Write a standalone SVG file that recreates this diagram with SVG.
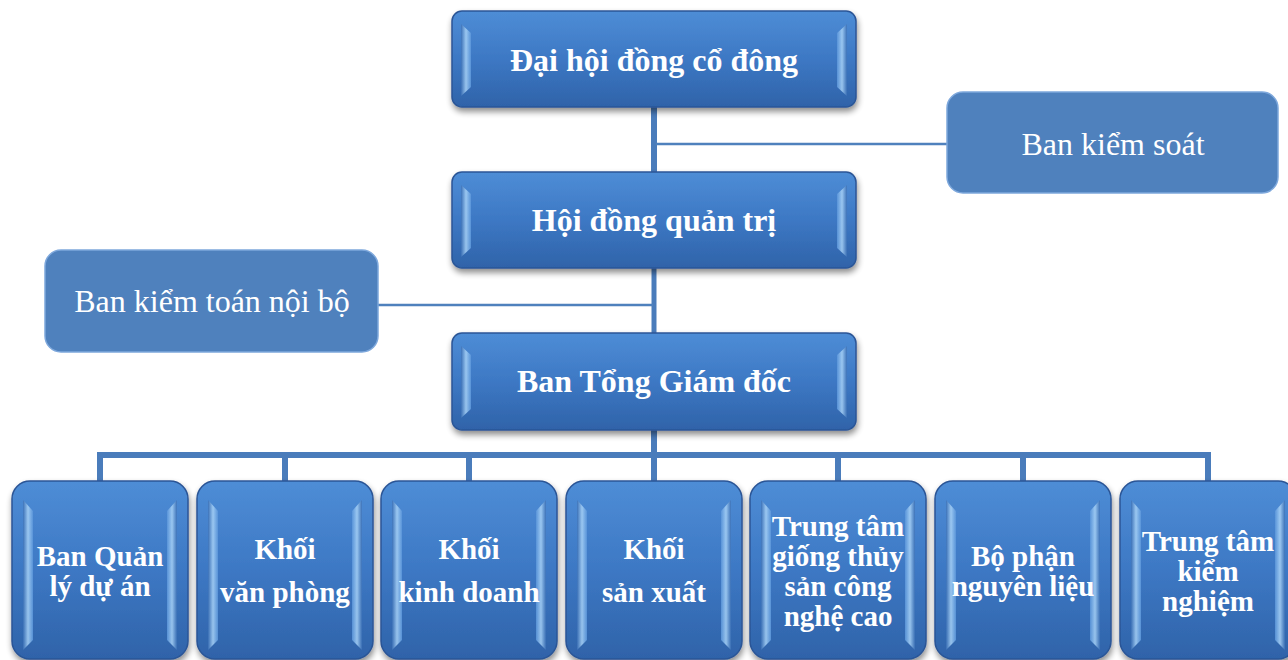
<svg xmlns="http://www.w3.org/2000/svg" width="1288" height="660" viewBox="0 0 1288 660">
<defs>
<linearGradient id="gMain" x1="0" y1="0" x2="0" y2="1">
<stop offset="0" stop-color="#4e8dd6"/>
<stop offset="0.5" stop-color="#3d78c4"/>
<stop offset="1" stop-color="#2f63a9"/>
</linearGradient>
<linearGradient id="gSideL" x1="0" y1="0" x2="1" y2="0">
<stop offset="0" stop-color="#3a6fb5"/>
<stop offset="0.5" stop-color="#a9d3f7"/>
<stop offset="1" stop-color="#5c97db"/>
</linearGradient>
<linearGradient id="gSideR" x1="0" y1="0" x2="1" y2="0">
<stop offset="0" stop-color="#5c97db"/>
<stop offset="0.5" stop-color="#a9d3f7"/>
<stop offset="1" stop-color="#3a6fb5"/>
</linearGradient>
<filter id="sh" x="-10%" y="-10%" width="120%" height="130%">
<feGaussianBlur in="SourceAlpha" stdDeviation="3"/>
<feOffset dx="1" dy="4" result="b"/>
<feComponentTransfer><feFuncA type="linear" slope="0.45"/></feComponentTransfer>
<feMerge><feMergeNode/><feMergeNode in="SourceGraphic"/></feMerge>
</filter>
</defs>
<style>
.box{fill:url(#gMain);stroke:#2b5596;stroke-width:1.5;filter:url(#sh)}
.facetL{fill:url(#gSideL);opacity:0.85}
.facetR{fill:url(#gSideR);opacity:0.85}
.side{fill:#4f81bd;stroke:#7ea8dc;stroke-width:1.5}
.tb{font-family:"Liberation Serif","Times New Roman",serif;font-weight:bold;fill:#ffffff;text-anchor:middle}
.tr{font-family:"Liberation Serif","Times New Roman",serif;fill:#ffffff;text-anchor:middle}
.big{font-size:32px}
.mid{font-size:29px}
.side-t{font-size:32px}
.thick{fill:none;stroke:#4a7cbb;stroke-width:6}
.thin{fill:none;stroke:#4f81bd;stroke-width:2.5}
</style>
<rect width="1288" height="660" fill="#ffffff"/>

<g id="connectors">
<line class="thick" x1="654" y1="105" x2="654" y2="174"/>
<line class="thin" x1="656" y1="144" x2="948" y2="144"/>
<line class="thick" x1="654" y1="266" x2="654" y2="335" style="stroke-width:5"/>
<line class="thin" x1="377" y1="305" x2="653" y2="305"/>
<path class="thick" d="M654 428 V455 M100 483 V455 H1208 V483 M285 455 V483 M469 455 V483 M838 455 V483 M1023 455 V483 M654 455 V483"/>
</g>

<g id="n-dhdcd">
<rect class="box" x="452" y="11" width="404" height="96" rx="10"/>
<polygon class="facetL" points="461,24 471,33 471,87 461,96"/>
<polygon class="facetR" points="847,24 837,33 837,87 847,96"/>
<text class="tb big" x="654" y="71">Đại hội đồng cổ đông</text>
</g>

<g id="n-hdqt">
<rect class="box" x="452" y="172" width="404" height="96" rx="10"/>
<polygon class="facetL" points="461,185 471,194 471,248 461,257"/>
<polygon class="facetR" points="847,185 837,194 837,248 847,257"/>
<text class="tb big" x="654" y="231">Hội đồng quản trị</text>
</g>

<g id="n-btgd">
<rect class="box" x="452" y="333" width="404" height="97" rx="10"/>
<polygon class="facetL" points="461,346 471,355 471,409 461,418"/>
<polygon class="facetR" points="847,346 837,355 837,409 847,418"/>
<text class="tb big" x="654" y="392">Ban Tổng Giám đốc</text>
</g>

<g id="n-bks">
<rect class="side" x="947" y="92" width="331" height="101" rx="16"/>
<text class="tr side-t" x="1113" y="155">Ban kiểm soát</text>
</g>

<g id="n-bktnb">
<rect class="side" x="45" y="250" width="333" height="102" rx="16"/>
<text class="tr side-t" x="212" y="312">Ban kiểm toán nội bộ</text>
</g>

<g id="n-bqlda">
<rect class="box" x="12" y="481" width="176" height="178" rx="18"/>
<polygon class="facetL" points="23,500 33,511 33,640 23,650"/>
<polygon class="facetR" points="177,500 167,511 167,640 177,650"/>
<text class="tb mid" x="100" y="566">Ban Quản</text>
<text class="tb mid" x="100" y="596">lý dự án</text>
</g>

<g id="n-kvp">
<rect class="box" x="197" y="481" width="176" height="178" rx="18"/>
<polygon class="facetL" points="208,500 218,511 218,640 208,650"/>
<polygon class="facetR" points="362,500 352,511 352,640 362,650"/>
<text class="tb mid" x="285" y="559">Khối</text>
<text class="tb mid" x="285" y="602">văn phòng</text>
</g>

<g id="n-kkd">
<rect class="box" x="381" y="481" width="176" height="178" rx="18"/>
<polygon class="facetL" points="392,500 402,511 402,640 392,650"/>
<polygon class="facetR" points="546,500 536,511 536,640 546,650"/>
<text class="tb mid" x="469" y="559">Khối</text>
<text class="tb mid" x="469" y="602">kinh doanh</text>
</g>

<g id="n-ksx">
<rect class="box" x="566" y="481" width="176" height="178" rx="18"/>
<polygon class="facetL" points="577,500 587,511 587,640 577,650"/>
<polygon class="facetR" points="731,500 721,511 721,640 731,650"/>
<text class="tb mid" x="654" y="559">Khối</text>
<text class="tb mid" x="654" y="602">sản xuất</text>
</g>

<g id="n-ttgts">
<rect class="box" x="750" y="481" width="176" height="178" rx="18"/>
<polygon class="facetL" points="761,500 771,511 771,640 761,650"/>
<polygon class="facetR" points="915,500 905,511 905,640 915,650"/>
<text class="tb mid" x="838" y="536">Trung tâm</text>
<text class="tb mid" x="838" y="566">giống thủy</text>
<text class="tb mid" x="838" y="596">sản công</text>
<text class="tb mid" x="838" y="626">nghệ cao</text>
</g>

<g id="n-bpnl">
<rect class="box" x="935" y="481" width="176" height="178" rx="18"/>
<polygon class="facetL" points="946,500 956,511 956,640 946,650"/>
<polygon class="facetR" points="1100,500 1090,511 1090,640 1100,650"/>
<text class="tb mid" x="1023" y="566">Bộ phận</text>
<text class="tb mid" x="1023" y="596">nguyên liệu</text>
</g>

<g id="n-ttkn">
<rect class="box" x="1120" y="481" width="176" height="178" rx="18"/>
<polygon class="facetL" points="1131,500 1141,511 1141,640 1131,650"/>
<polygon class="facetR" points="1285,500 1275,511 1275,640 1285,650"/>
<text class="tb mid" x="1208" y="551">Trung tâm</text>
<text class="tb mid" x="1208" y="581">kiểm</text>
<text class="tb mid" x="1208" y="611">nghiệm</text>
</g>
</svg>
